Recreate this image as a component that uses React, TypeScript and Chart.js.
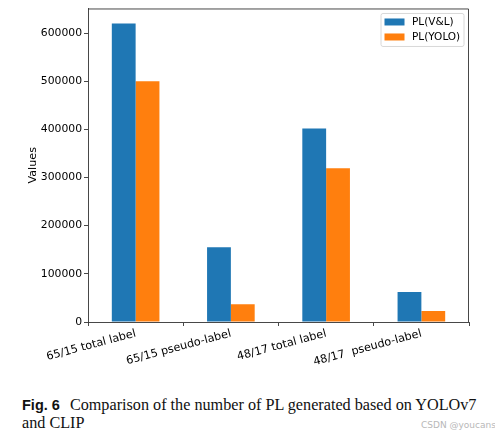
import React, { useEffect, useRef } from "react";
import { Chart, registerables } from "chart.js";

Chart.register(...registerables);

const categories = ["65/15 total label", "65/15 pseudo-label", "48/17 total label", "48/17  pseudo-label"];
const seriesNames = ["PL(V&L)", "PL(YOLO)"];
const plVL = [620000, 155000, 402000, 62500];
const plYOLO = [500000, 37000, 319000, 23000];
const yTicks = [0, 100000, 200000, 300000, 400000, 500000, 600000];
const colors = ["#1f77b4", "#ff7f0e"];

const FONT = "'DejaVu Sans', sans-serif";

const framePlugin = {
  id: "frameAndLegend",
  afterDraw(chart: any) {
    const { ctx, chartArea } = chart;
    ctx.save();
    ctx.strokeStyle = "#333";
    ctx.lineWidth = 0.9;
    ctx.beginPath();
    ctx.moveTo(chartArea.left, chartArea.top + 0.5);
    ctx.lineTo(chartArea.right - 0.5, chartArea.top + 0.5);
    ctx.lineTo(chartArea.right - 0.5, chartArea.bottom);
    ctx.stroke();

    // legend
    const bw = 83;
    const bh = 33;
    const bx = chartArea.right - 5 - bw;
    const by = chartArea.top + 5;
    ctx.fillStyle = "rgba(255,255,255,0.8)";
    ctx.strokeStyle = "#d8d8d8";
    ctx.lineWidth = 1;
    ctx.beginPath();
    const r = 2;
    ctx.moveTo(bx + r, by);
    ctx.arcTo(bx + bw, by, bx + bw, by + bh, r);
    ctx.arcTo(bx + bw, by + bh, bx, by + bh, r);
    ctx.arcTo(bx, by + bh, bx, by, r);
    ctx.arcTo(bx, by, bx + bw, by, r);
    ctx.closePath();
    ctx.fill();
    ctx.stroke();
    ctx.font = `10.5px ${FONT}`;
    ctx.textBaseline = "middle";
    ctx.textAlign = "left";
    chart.data.datasets.forEach((ds: any, i: number) => {
      const cy = by + 8.5 + i * 15;
      ctx.fillStyle = ds.backgroundColor;
      ctx.fillRect(bx + 3.5, cy - 3.5, 20, 7);
      ctx.fillStyle = "#000";
      ctx.fillText(ds.label, bx + 31, cy + 0.5);
    });
    ctx.restore();
  },
};

export default function App() {
  const ref = useRef<HTMLCanvasElement>(null);
  useEffect(() => {
    const chart = new Chart(ref.current!, {
      type: "bar",
      data: {
        labels: categories,
        datasets: [
          { label: seriesNames[0], data: plVL, backgroundColor: colors[0] },
          { label: seriesNames[1], data: plYOLO, backgroundColor: colors[1] },
        ],
      },
      options: {
        animation: false,
        responsive: true,
        maintainAspectRatio: false,
        layout: { padding: { top: 7, right: 26, bottom: 0, left: 0 } },
        datasets: { bar: { categoryPercentage: 0.5, barPercentage: 1.0 } },
        plugins: { legend: { display: false }, tooltip: { enabled: false } },
        scales: {
          x: {
            grid: { drawOnChartArea: false, drawTicks: true, tickLength: 4, color: "#333", lineWidth: 0.9 },
            border: { display: true, color: "#333", width: 0.9 },
            ticks: {
              color: "#000",
              font: { family: FONT, size: 11.2 },
              minRotation: 15,
              maxRotation: 15,
              padding: 1,
              autoSkip: false,
            },
            afterFit: (scale: any) => {
              scale.height = 50;
            },
          },
          y: {
            min: 0,
            max: 651000,
            grid: { drawOnChartArea: false, drawTicks: true, tickLength: 4, color: "#333", lineWidth: 0.9 },
            border: { display: true, color: "#333", width: 0.9 },
            ticks: {
              color: "#000",
              font: { family: FONT, size: 10.8 },
              padding: 2,
              callback: (v: any) => String(v),
            },
            afterBuildTicks: (scale: any) => {
              scale.ticks = yTicks.map((v) => ({ value: v }));
            },
            title: {
              display: true,
              text: "Values",
              color: "#000",
              font: { family: FONT, size: 11.2 },
              padding: { top: 26, bottom: 0 },
            },
            afterFit: (scale: any) => {
              scale.width = 88;
            },
          },
        },
      },
      plugins: [framePlugin],
    });
    return () => chart.destroy();
  }, []);

  return (
    <div style={{ position: "absolute", left: 0, top: 0, width: 495, height: 438, background: "#fff" }}>
      <div style={{ position: "absolute", left: 0, top: 0, width: 495, height: 372 }}>
        <canvas ref={ref} />
      </div>
      <div
        style={{
          position: "absolute",
          left: 22,
          top: 396,
          fontFamily: "'Liberation Serif', serif",
          fontSize: 16.2,
          lineHeight: "18px",
          color: "#111",
          whiteSpace: "nowrap",
        }}
      >
        <span style={{ fontFamily: "'Liberation Sans', sans-serif", fontWeight: "bold", fontSize: 14.5, marginRight: 10 }}>
          Fig. 6
        </span>
        Comparison of the number of PL generated based on YOLOv7
        <br />
        and CLIP
      </div>
      <div
        style={{
          position: "absolute",
          left: 421,
          top: 420,
          fontFamily: "'DejaVu Sans', sans-serif",
          fontSize: 9,
          color: "#b8b8b8",
          whiteSpace: "nowrap",
        }}
      >
        CSDN @youcans
      </div>
    </div>
  );
}
